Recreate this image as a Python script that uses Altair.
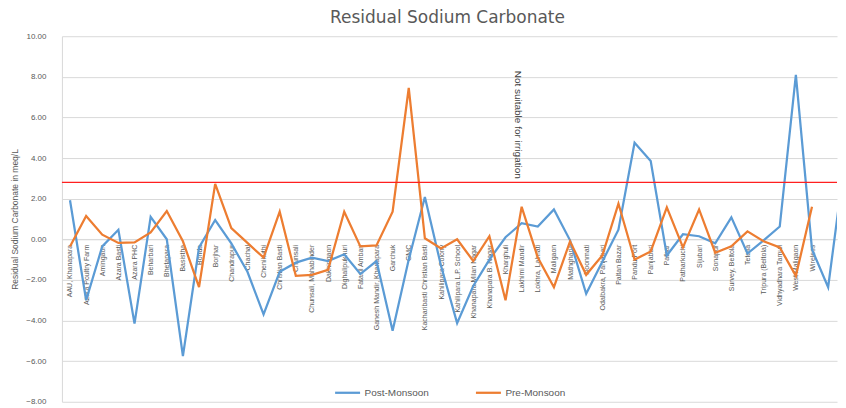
import json
import altair as alt
import pandas as pd

# ---------------- data ----------------
sites = [
    "AAU, Khanapara", "Azara Poultry Farm", "Amingaon", "Azara Basti", "Azara PHC",
    "Beharbari", "Bhetapara", "Basistha", "Bonda", "Borjhar",
    "Chandrapur", "Chachal", "Chenikuthi", "Christian Basti", "Chunsali",
    "Chunsali, Mahabinder", "Dakhingaon", "Dighalipukhuri", "Fatasil Ambari",
    "Ganesh Mandir, Khanapara", "Garchuk", "GMC", "Kacharibasti Christian Basti",
    "Kahilipara Colony", "Kahilipara L.P. School", "Khanapara Milan Nagar",
    "Khanapara B. Nagar", "Kharghuli", "Lakhimi Mandir", "Lokhra, Lalmati",
    "Maligaon", "Mathgharia", "Noonmati", "Odalbakra, Panjabari", "Paltan Bazar",
    "Pandu Port", "Panjabari", "Pathar", "Patharkuchi", "Sijubari", "Sonapur",
    "Survey, Beltola", "Tetelia", "Tripura (Beltola)", "Vidhyadhara Tamuli",
    "West Maligaon", "Wireless", "", "",
]

post_monsoon = [
    1.92, -3.0, -0.35, 0.47, -4.15, 1.1, 0.0, -5.75, -0.4, 0.95,
    -0.2, -1.6, -3.7, -1.6, -1.15, -0.9, -1.07, -0.74, -1.71, -1.07,
    -4.5, -1.0, 2.08, -1.3, -4.13, -2.3, -1.0, 0.1, 0.79, 0.63,
    1.47, -0.05, -2.68, -1.1, 0.47, 4.75, 3.85, -0.8, 0.25, 0.15,
    -0.2, 1.08, -0.7, -0.05, 0.63, 8.1, -0.5, -2.36, 3.7,
]

pre_monsoon = [
    -0.35, 1.15, 0.23, -0.18, -0.15, 0.34, 1.39, -0.1, -2.35, 2.73,
    0.55, -0.18, -0.9, 1.36, -1.8, -1.75, -1.5, 1.36, -0.35, -0.3,
    1.36, 7.45, 0.05, -0.45, 0.0, -1.07, 0.15, -3.0, 1.6, -0.9,
    -2.36, -0.1, -1.75, -0.8, 1.76, -1.0, -0.6, 1.57, -0.4, 1.47,
    -0.66, -0.35, 0.39, -0.1, -0.4, -1.8, 1.6,
]

series_names = ["Post-Monsoon", "Pre-Monsoon"]
series_colors = ["#5B9BD5", "#ED7D31"]

limit_value = [2.8]
note_text = ["Not suitable for irrigation"]
note_x = [27.75]
note_y = [8.3]

y_ticks = [-8, -6, -4, -2, 0, 2, 4, 6, 8, 10]
y_min, y_max = -8, 10
y_title = "Residual Sodium Carbonate  in meq/L"
chart_title = "Residual Sodium Carbonate"

# ---------------- frame ----------------
rows = []
for name, vals in zip(series_names, [post_monsoon, pre_monsoon]):
    for i, v in enumerate(vals):
        rows.append({"idx": i, "site": sites[i], "season": name, "value": v})
df = pd.DataFrame(rows)

STEP = 16.15            # pixels per category
W = 776                 # plot width (the reference is cropped at the right)
H = 366
GRID = "#d9d9d9"
TXT = "#595959"
FONT = "Liberation Sans"

x_hi = -0.5 + W / STEP
x_scale = alt.Scale(domain=[-0.5, x_hi], nice=False, zero=False)
y_scale = alt.Scale(domain=[y_min, y_max], nice=False, zero=False)
axis_offset = -H * (0 - y_min) / (y_max - y_min)

label_expr = json.dumps(sites) + "[datum.value]"

x_axis = alt.Axis(title=None, values=list(range(len(sites))), labelExpr=label_expr,
                  labelAngle=270, labelFontSize=7,
                  labelColor=TXT, labelFont=FONT, labelOverlap=False, labelFlush=False,
                  labelBound=False, labelLimit=200, labelPadding=5, ticks=False, grid=False,
                  domain=True, domainColor=GRID, offset=axis_offset)
y_axis = alt.Axis(values=y_ticks, format=".2f", title=y_title,
                  titleFontSize=8.5, titleFontWeight="normal", titleColor=TXT,
                  titleFont=FONT, titlePadding=6,
                  labelFontSize=8, labelColor=TXT, labelFont=FONT, labelPadding=16,
                  ticks=False, domain=True, domainColor=GRID,
                  grid=True, gridColor=GRID)

lines = alt.Chart(df).mark_line(strokeWidth=2.25, clip=True).encode(
    x=alt.X("idx:Q", scale=x_scale, axis=x_axis),
    y=alt.Y("value:Q", scale=y_scale, axis=y_axis, title=y_title),
    color=alt.Color("season:N",
                    scale=alt.Scale(domain=series_names, range=series_colors),
                    legend=alt.Legend(title=None, orient="none", direction="horizontal",
                                      legendX=272, legendY=343, padding=0,
                                      symbolType="stroke", symbolSize=625,
                                      symbolStrokeWidth=2.25, labelFontSize=10,
                                      labelColor=TXT, labelFont=FONT, labelOffset=3,
                                      columnPadding=42)),
    order=alt.Order("idx:Q"),
)

rule = alt.Chart(pd.DataFrame({"value": limit_value})).mark_rule(strokeWidth=1.2).encode(
    y=alt.Y("value:Q", scale=y_scale, axis=y_axis, title=y_title),
    color=alt.value("#ff2020"),
)

note = alt.Chart(pd.DataFrame({"idx": note_x, "value": note_y, "t": note_text})).mark_text(
    angle=90, align="left", baseline="middle", fontSize=10, color="#404040", font=FONT
).encode(
    x=alt.X("idx:Q", scale=x_scale, axis=x_axis),
    y=alt.Y("value:Q", scale=y_scale, axis=y_axis, title=y_title),
    text="t:N",
)

chart = alt.layer(lines, rule, note).properties(
    width=W, height=H,
    title=alt.TitleParams(chart_title, fontSize=17, fontWeight="normal",
                          color=TXT, font="DejaVu Sans", anchor="middle", dx=-2, offset=5),
    padding={"left": 2, "top": 1, "right": 0, "bottom": 0},
).configure_view(stroke=None)

chart.save("out.html", embed_options={"renderer": "svg", "actions": False})
